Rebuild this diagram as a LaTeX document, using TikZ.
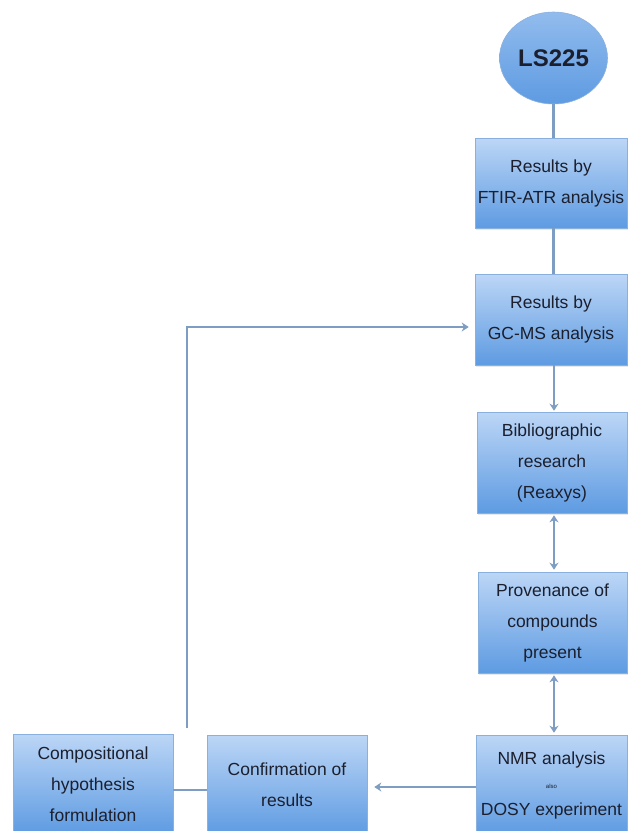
\documentclass[tikz,border=0pt]{standalone}
\usepackage{fontspec}
\setmainfont{Liberation Sans}
\usetikzlibrary{shapes.geometric,arrows.meta,shadows}
\definecolor{boxtop}{HTML}{BCD6F6}
\definecolor{boxbot}{HTML}{5E9BE2}
\definecolor{boxline}{HTML}{8AB0DE}
\definecolor{conn}{HTML}{7E9DC2}
\definecolor{txt}{HTML}{1B1F2E}
\begin{document}
\begin{tikzpicture}[x=1pt,y=-1pt,
  flowbox/.style={rectangle, draw=boxline, line width=0.6pt,
    top color=boxtop, bottom color=boxbot, align=center, text=txt,
    font=\fontsize{17.5}{31}\selectfont, inner sep=0pt,
    drop shadow={opacity=0.18, shadow xshift=1pt, shadow yshift=-2pt}},
  startnode/.style={ellipse, draw=boxline, line width=0.6pt,
    top color=boxtop!55!boxbot, bottom color=boxbot, text=txt,
    font=\fontsize{24}{28}\selectfont\bfseries, inner sep=0pt,
    minimum width=108pt, minimum height=92pt},
  conline/.style={draw=conn, line width=2.7pt},
  tip/.style={-{Stealth[length=7pt,width=9pt]}},
  dtip/.style={{Stealth[length=7pt,width=9pt]}-{Stealth[length=7pt,width=9pt]}}
]
\useasboundingbox (0,0) rectangle (629,831);
\clip (0,0) rectangle (629,831);
\fill[white] (0,0) rectangle (629,831);

\node[startnode] (ls) at (553.5,58) {LS225};
\node[flowbox, minimum width=152pt, minimum height=90pt] (b1) at (551,183) {Results by\\FTIR-ATR analysis};
\node[flowbox, minimum width=152pt, minimum height=91pt] (b2) at (551,319.5) {Results by\\GC-MS analysis};
\node[flowbox, minimum width=150pt, minimum height=101pt] (b3) at (552,462.5) {Bibliographic\\research\\(Reaxys)};
\node[flowbox, minimum width=149pt, minimum height=101pt] (b4) at (552.5,622.5) {Provenance of\\compounds\\present};
\node[flowbox, minimum width=151pt, minimum height=100pt] (nmr) at (551.5,785) {NMR analysis\\[-7pt]{\fontsize{6}{8}\selectfont also}\\[-4pt]DOSY experiment};
\node[flowbox, minimum width=160pt, minimum height=100pt] (conf) at (287,785) {Confirmation of\\results};
\node[flowbox, minimum width=160pt, minimum height=100pt] (comp) at (93,784) {Compositional\\hypothesis\\formulation};

\coordinate (fb) at (187,728);

\draw[conline] (ls.south) -- (ls.south |- b1.north);
\draw[conline] (b1.south -| ls.south) -- (b2.north -| ls.south);
\draw[conline, tip, shorten >=1pt] (b2.south -| 554,0) -- (b3.north -| 554,0);
\draw[conline, dtip, shorten >=2pt, shorten <=2pt] (b3.south -| 554,0) -- (b4.north -| 554,0);
\draw[conline, dtip, shorten >=2pt, shorten <=2pt] (b4.south -| 554,0) -- (nmr.north -| 554,0);
\draw[conline, tip, shorten >=7pt] (nmr.west |- 0,787) -- (conf.east |- 0,787);
\draw[conline] (comp.east |- 0,790) -- (conf.west |- 0,790);
\draw[conline, tip, shorten >=6pt] (fb) |- (b2.west |- 0,327);
\end{tikzpicture}
\end{document}
